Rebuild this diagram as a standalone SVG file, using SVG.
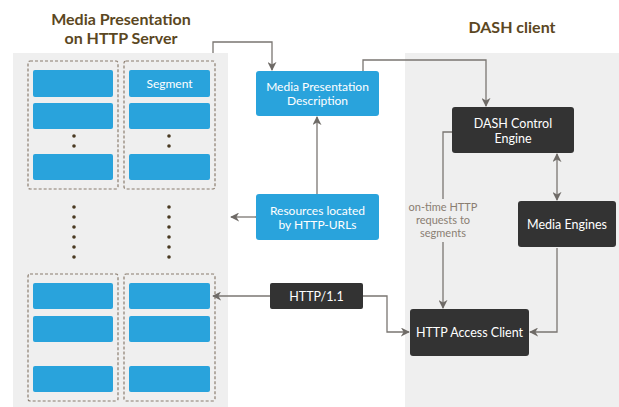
<svg xmlns="http://www.w3.org/2000/svg" width="619" height="407" viewBox="0 0 619 407">
<defs>
<marker id="ah" viewBox="0 0 10 10" refX="9" refY="5" markerWidth="9" markerHeight="9" markerUnits="userSpaceOnUse" orient="auto-start-reverse">
<path d="M0,0 L10,5 L0,10 L3,5 Z" fill="#6e6a66"/>
</marker>
<style>
.panel{fill:#efefef}
.dash{fill:none;stroke:#8a7c6e;stroke-width:1.2;stroke-dasharray:3,2}
.seg{fill:#29a3dc}
.blue{fill:#29a3dc}
.dark{fill:#333333}
.dot{fill:#4a3a22}
.title{font-family:Lato,"Open Sans",sans-serif;font-weight:bold;font-size:16px;fill:#5b4722;text-anchor:middle}
.wt{font-family:Lato,"Open Sans",sans-serif;font-size:12px;fill:#ffffff;text-anchor:middle}
.wt2{font-family:Lato,"Open Sans",sans-serif;font-size:12.5px;fill:#ffffff;text-anchor:middle}
.note{font-family:Lato,"Open Sans",sans-serif;font-size:11px;fill:#8a7e72;text-anchor:middle}
.conn path{fill:none;stroke:#7a7672;stroke-width:1.3}
</style>
</defs>
<rect width="619" height="407" fill="#ffffff"/>

<g id="server-panel">
<rect class="panel" x="13" y="53" width="215" height="354"/>
<text class="title" x="121" y="25">Media Presentation</text>
<text class="title" x="121" y="44">on HTTP Server</text>
<rect class="dash" x="28" y="61" width="90" height="128" rx="2"/>
<rect class="dash" x="124" y="61" width="91" height="128" rx="2"/>
<rect class="dash" x="28" y="274" width="90" height="127" rx="2"/>
<rect class="dash" x="124" y="274" width="91" height="127" rx="2"/>
<g id="segments-col1-top">
<rect class="seg" x="33" y="70" width="80" height="27" rx="2"/>
<rect class="seg" x="33" y="103" width="80" height="26" rx="2"/>
<rect class="seg" x="33" y="154" width="80" height="26" rx="2"/>
</g>
<g id="segments-col2-top">
<rect class="seg" x="129" y="70" width="81" height="27" rx="2"/>
<text class="wt" x="169.5" y="87.5">Segment</text>
<rect class="seg" x="129" y="103" width="81" height="26" rx="2"/>
<rect class="seg" x="129" y="154" width="81" height="26" rx="2"/>
</g>
<g id="segments-col1-bottom">
<rect class="seg" x="33" y="283" width="80" height="26" rx="2"/>
<rect class="seg" x="33" y="316" width="80" height="26" rx="2"/>
<rect class="seg" x="33" y="366" width="80" height="26" rx="2"/>
</g>
<g id="segments-col2-bottom">
<rect class="seg" x="129" y="283" width="81" height="26" rx="2"/>
<rect class="seg" x="129" y="316" width="81" height="26" rx="2"/>
<rect class="seg" x="129" y="366" width="81" height="26" rx="2"/>
</g>
<g id="dots">
<circle class="dot" cx="74" cy="136" r="1.8"/><circle class="dot" cx="74" cy="146" r="1.8"/>
<circle class="dot" cx="169" cy="136" r="1.8"/><circle class="dot" cx="169" cy="146" r="1.8"/>
<circle class="dot" cx="74" cy="207" r="1.8"/><circle class="dot" cx="74" cy="217" r="1.8"/><circle class="dot" cx="74" cy="227" r="1.8"/><circle class="dot" cx="74" cy="237" r="1.8"/><circle class="dot" cx="74" cy="247" r="1.8"/><circle class="dot" cx="74" cy="257" r="1.8"/>
<circle class="dot" cx="169" cy="207" r="1.8"/><circle class="dot" cx="169" cy="217" r="1.8"/><circle class="dot" cx="169" cy="227" r="1.8"/><circle class="dot" cx="169" cy="237" r="1.8"/><circle class="dot" cx="169" cy="247" r="1.8"/><circle class="dot" cx="169" cy="257" r="1.8"/>
</g>
</g>

<g id="client-panel">
<rect class="panel" x="405" y="53" width="214" height="354"/>
<text class="title" x="512" y="33">DASH client</text>
</g>

<g id="mpd">
<rect class="blue" x="256" y="71" width="123" height="45" rx="3"/>
<text class="wt" x="317.5" y="91">Media Presentation</text>
<text class="wt" x="317.5" y="105">Description</text>
</g>

<g id="resources">
<rect class="blue" x="256" y="194" width="123" height="46" rx="3"/>
<text class="wt" x="317.5" y="214.5">Resources located</text>
<text class="wt" x="317.5" y="228.5">by HTTP-URLs</text>
</g>

<g id="http11">
<rect class="dark" x="270" y="283" width="93" height="26" rx="2"/>
<text class="wt2" x="316.5" y="300.5">HTTP/1.1</text>
</g>

<g id="dash-control">
<rect class="dark" x="452" y="107" width="122" height="46" rx="3"/>
<text class="wt2" x="513" y="127.5">DASH Control</text>
<text class="wt2" x="513" y="142.5">Engine</text>
</g>

<g id="media-engines">
<rect class="dark" x="518" y="201" width="98" height="46" rx="3"/>
<text class="wt2" x="567" y="228.5">Media Engines</text>
</g>

<g id="http-access">
<rect class="dark" x="410" y="309" width="119" height="47" rx="3"/>
<text class="wt2" x="469.5" y="337">HTTP Access Client</text>
</g>

<g id="note">
<text class="note" x="443" y="210.7">on-time HTTP</text>
<text class="note" x="443" y="224">requests to</text>
<text class="note" x="443" y="237.3">segments</text>
</g>

<g class="conn" id="connectors">
<path d="M213,53 V42 H272 V70" marker-end="url(#ah)"/>
<path d="M363,71 V60 H486 V106" marker-end="url(#ah)"/>
<path d="M317,194 V117" marker-end="url(#ah)"/>
<path d="M256,217 H231" marker-end="url(#ah)"/>
<path d="M270,296 H213" marker-end="url(#ah)"/>
<path d="M363,296 H387 V332 H409" marker-end="url(#ah)"/>
<path d="M452,132 H443 V199"/>
<path d="M443,242 V308" marker-end="url(#ah)"/>
<path d="M557,154 V200" marker-start="url(#ah)" marker-end="url(#ah)"/>
<path d="M557,248 V332 H530" marker-end="url(#ah)"/>
</g>
</svg>
